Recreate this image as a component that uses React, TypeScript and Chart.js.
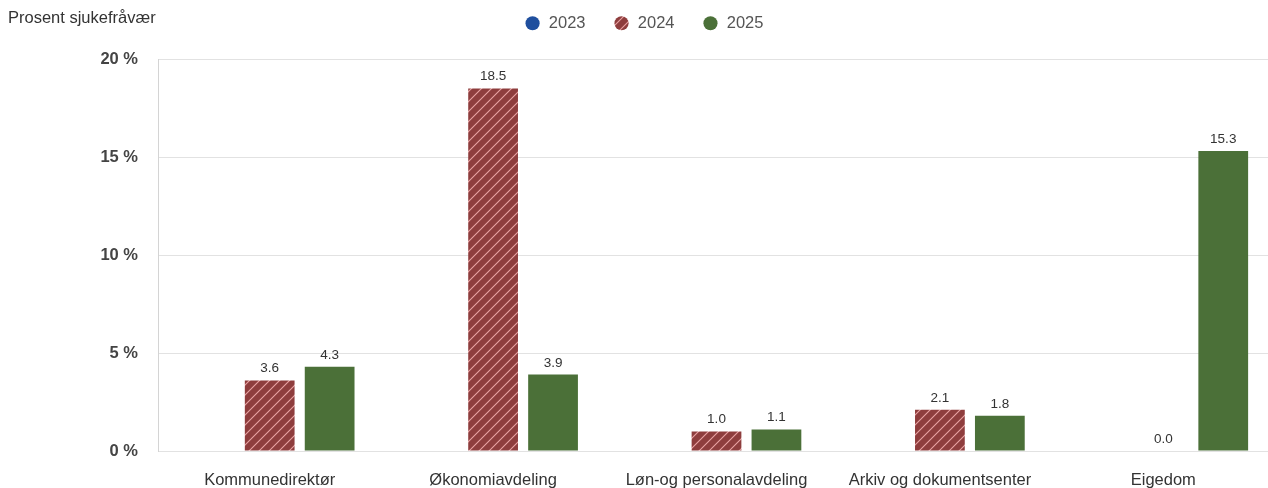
import React, { useEffect, useRef } from "react";
import { Chart, registerables } from "chart.js";

Chart.register(...registerables);

const categories = [
  "Kommunedirektør",
  "Økonomiavdeling",
  "Løn-og personalavdeling",
  "Arkiv og dokumentsenter",
  "Eigedom",
];
const series2023: (number | null)[] = [null, null, null, null, null];
const series2024: (number | null)[] = [3.6, 18.5, 1.0, 2.1, 0.0];
const series2025: (number | null)[] = [4.3, 3.9, 1.1, 1.8, 15.3];
const yTicks = [0, 5, 10, 15, 20];
const axisTitle = "Prosent sjukefråvær";

const FONT = "'Liberation Sans', Arial, sans-serif";

function makeHatch(): CanvasPattern | string {
  const c = document.createElement("canvas");
  c.width = 10;
  c.height = 10;
  const ctx = c.getContext("2d");
  if (!ctx) return "#8e3d3d";
  ctx.fillStyle = "#8e3d3d";
  ctx.fillRect(0, 0, 10, 10);
  ctx.strokeStyle = "#e8a2a2";
  ctx.lineWidth = 1.1;
  ctx.beginPath();
  ctx.moveTo(0, 10);
  ctx.lineTo(10, 0);
  ctx.moveTo(-5, 5);
  ctx.lineTo(5, -5);
  ctx.moveTo(5, 15);
  ctx.lineTo(15, 5);
  ctx.stroke();
  const p = ctx.createPattern(c, "repeat");
  return p || "#8e3d3d";
}

const valueLabels = {
  id: "valueLabels",
  afterDatasetsDraw(chart: any) {
    const ctx = chart.ctx;
    ctx.save();
    ctx.font = `13.5px ${FONT}`;
    ctx.fillStyle = "#333";
    ctx.textAlign = "center";
    ctx.textBaseline = "bottom";
    chart.data.datasets.forEach((ds: any, i: number) => {
      const meta = chart.getDatasetMeta(i);
      if (meta.hidden) return;
      meta.data.forEach((bar: any, j: number) => {
        const v = ds.data[j];
        if (v === null || v === undefined) return;
        ctx.fillText(Number(v).toFixed(1), bar.x, bar.y - 5);
      });
    });
    ctx.restore();
  },
};

const topTitle = {
  id: "topTitle",
  afterDraw(chart: any) {
    const ctx = chart.ctx;
    ctx.save();
    ctx.font = `16.5px ${FONT}`;
    ctx.fillStyle = "#333";
    ctx.textAlign = "left";
    ctx.textBaseline = "middle";
    ctx.fillText(axisTitle, 8, 18);
    ctx.restore();
  },
};

const legendHeight = {
  id: "legendHeight",
  beforeInit(chart: any) {
    const legend = chart.legend;
    if (!legend) return;
    const origFit = legend.fit;
    legend.fit = function () {
      origFit.bind(legend)();
      this.height = 72;
    };
  },
};

export default function App() {
  const ref = useRef<HTMLCanvasElement | null>(null);

  useEffect(() => {
    if (!ref.current) return;
    const hatch = makeHatch();
    const chart = new Chart(ref.current, {
      type: "bar",
      data: {
        labels: categories,
        datasets: [
          { label: "2023", data: series2023, backgroundColor: "#1f4f9e", borderWidth: 0 },
          { label: "2024", data: series2024, backgroundColor: hatch as any, borderWidth: 0 },
          { label: "2025", data: series2025, backgroundColor: "#4b7038", borderWidth: 0 },
        ],
      },
      options: {
        animation: false,
        responsive: false,
        maintainAspectRatio: false,
        layout: { padding: { left: 13, right: 11, top: -13, bottom: 0 } },
        datasets: { bar: { categoryPercentage: 0.805, barPercentage: 0.83 } } as any,
        plugins: {
          legend: {
            position: "top",
            align: "center",
            labels: {
              usePointStyle: true,
              pointStyle: "circle",
              boxWidth: 16,
              boxHeight: 10,
              padding: 28,
              color: "#555",
              font: { size: 16.5, family: FONT },
            },
          },
          tooltip: { enabled: false },
          title: { display: false },
        },
        scales: {
          x: {
            grid: { display: false },
            border: { display: false },
            ticks: {
              color: "#333",
              font: { size: 16.5, family: FONT },
              padding: 12,
              maxRotation: 0,
              autoSkip: false,
            },
            afterFit(scale: any) {
              scale.height = 37;
            },
          },
          y: {
            min: 0,
            max: 20,
            afterBuildTicks(scale: any) {
              scale.ticks = yTicks.map((v) => ({ value: v }));
            },
            grid: { color: "#e2e2e2", drawTicks: false },
            border: { display: true, color: "#d4d4d4" },
            ticks: {
              color: "#444",
              font: { size: 16.5, family: FONT, weight: "bold" },
              padding: 20,
              callback: (v: any) => `${v} %`,
            },
            afterFit(scale: any) {
              scale.width = 145;
            },
          },
        },
      },
      plugins: [legendHeight, valueLabels, topTitle],
    });
    return () => chart.destroy();
  }, []);

  return (
    <div
      style={{
        position: "fixed",
        left: 0,
        top: 0,
        width: 1268,
        height: 488,
        overflow: "hidden",
        background: "#fff",
      }}
    >
      <canvas ref={ref} width={1286} height={488} style={{ display: "block" }} />
    </div>
  );
}
